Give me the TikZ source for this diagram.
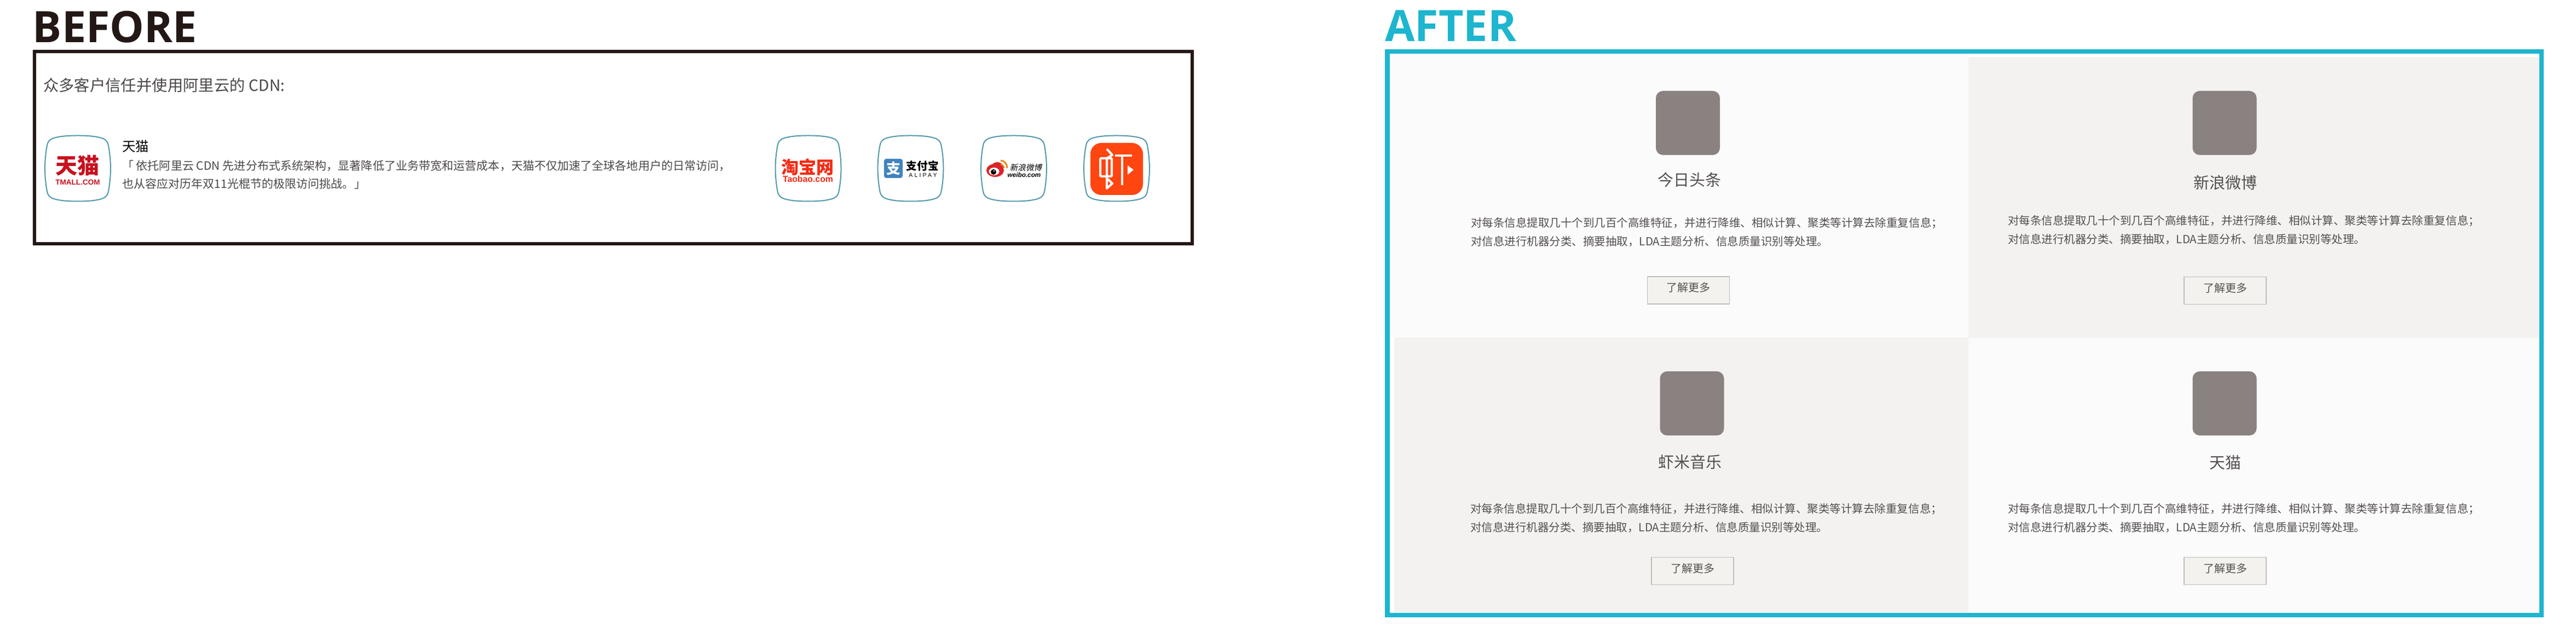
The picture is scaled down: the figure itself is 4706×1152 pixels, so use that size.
\documentclass[tikz,border=0pt]{standalone}
\usepackage{fontspec}
\setmainfont{Open Sans}
\newfontfamily\cjk{Noto Sans CJK SC}
\newfontfamily\headfont{Open Sans}
\newfontfamily\logosans{Liberation Sans}
\definecolor{inkblack}{HTML}{231815}
\definecolor{aftercyan}{HTML}{1EB5CF}
\definecolor{panellight}{HTML}{FBFBFB}
\definecolor{panelgrey}{HTML}{F3F2F0}
\definecolor{rimteal}{HTML}{4F98A8}
\definecolor{tilegrey}{HTML}{8A8280}
\definecolor{btnfill}{HTML}{F3F2EE}
\definecolor{btnrule}{HTML}{BDBCB8}
\definecolor{bodygrey}{HTML}{555050}
\definecolor{beforegrey}{HTML}{4C4848}
\definecolor{tmallred}{HTML}{C8101E}
\definecolor{taobaored}{HTML}{F42A12}
\definecolor{alipayblue}{HTML}{3F83BF}
\definecolor{weibored}{HTML}{D9252B}
\definecolor{weiboorange}{HTML}{E58A1F}
\definecolor{xiamiorange}{HTML}{FF4510}
\tikzset{
  txt/.style={inner sep=0pt,outer sep=0pt},
  heading/.style={txt,anchor=base west,font=\headfont\fontsize{22.5pt}{26pt}\selectfont\bfseries},
  cardtitle/.style={txt,text=bodygrey,font=\cjk\fontsize{8.25pt}{10pt}\selectfont},
  cardbody/.style={txt,anchor=north west,align=left,text=bodygrey,
    font=\cjk\fontsize{5.84pt}{9.7pt}\selectfont},
  morebtn/.style={txt,draw=btnrule,line width=.15mm,fill=btnfill,minimum width=15mm,minimum height=5mm},
  moretext/.style={txt,text=bodygrey,font=\cjk\fontsize{5.69pt}{7pt}\selectfont},
  greytile/.style={txt,fill=tilegrey,rounded corners=1.3mm,minimum width=11.7mm,minimum height=11.7mm},
  squircle/.pic={
    \draw[rimteal,line width=.2mm]
      (0,-60) .. controls (-20,-60) and (-35,-58.5) .. (-45,-55)
      .. controls (-52,-52.5) and (-55,-48) .. (-56,-42)
      .. controls (-58,-32) and (-60,-15) .. (-60,0)
      .. controls (-60,15) and (-58,32) .. (-56,42)
      .. controls (-55,48) and (-52,52.5) .. (-45,55)
      .. controls (-35,58.5) and (-20,60) .. (0,60)
      .. controls (20,60) and (35,58.5) .. (45,55)
      .. controls (52,52.5) and (55,48) .. (56,42)
      .. controls (58,32) and (60,15) .. (60,0)
      .. controls (60,-15) and (58,-32) .. (56,-42)
      .. controls (55,-48) and (52,-52.5) .. (45,-55)
      .. controls (35,-58.5) and (20,-60) .. (0,-60) -- cycle;
  }
}
\begin{document}
\begin{tikzpicture}[x=.1mm,y=-.1mm]
\useasboundingbox (0,0) rectangle (4706,1152);
% BEFORE
\node[heading,text=inkblack] (beforehead) at (60,78) {BEFORE};
\draw[inkblack,line width=.6mm] (63,94) rectangle (2178,445);
\node[txt,anchor=west,text=beforegrey,font=\cjk\fontsize{8.08pt}{10pt}\selectfont] (intro) at (79,156) {众多客户信任并使用阿里云的 CDN:};
\node[txt,anchor=west,text=black,font=\cjk\fontsize{6.97pt}{9pt}\selectfont] (tmname) at (223,267) {天猫};
\node[txt,anchor=west,align=left,text=beforegrey,font=\cjk\fontsize{6pt}{9.3pt}\selectfont] (tmdesc) at (223,319)
  {「 依托阿里云 CDN 先进分布式系统架构，显著降低了业务带宽和运营成本，天猫不仅加速了全球各地用户的日常访问，\\也从容应对历年双11光棍节的极限访问挑战。」};
% customer icons
\pic at (142,307.5) {squircle};
\pic at (1476.5,307.5) {squircle};
\pic at (1663.5,307.5) {squircle};
\pic at (1852,307.5) {squircle};
\pic at (2040,307.5) {squircle};
% Tmall logo
\node[txt,text=tmallred,font=\cjk\fontsize{11.4pt}{12pt}\selectfont\bfseries] (tmallcn) at (142,302) {天猫};
\node[txt,text=tmallred,font=\logosans\fontsize{3.85pt}{5pt}\selectfont\bfseries] (tmallen) at (142,333) {TMALL.COM};
% Taobao logo
\node[txt,text=taobaored,font=\cjk\fontsize{9.1pt}{10pt}\selectfont\bfseries] (taobaocn) at (1475,305) {淘宝网};
\node[txt,text=taobaored,font=\logosans\fontsize{4.5pt}{5pt}\selectfont\bfseries] (taobaoen) at (1476,327) {Taobao.com};
% Alipay logo
\node[txt,fill=alipayblue,rounded corners=.4mm,minimum width=3.4mm,minimum height=3.5mm,
  text=white,font=\cjk\fontsize{7.4pt}{8pt}\selectfont\bfseries] (alipaybox) at (1632,307.5) {支};
\node[txt,text=black,font=\cjk\fontsize{5.6pt}{6pt}\selectfont\bfseries] (alipaycn) at (1685.5,303) {支付宝};
\node[txt,text=black,font=\logosans\fontsize{3pt}{4pt}\selectfont\addfontfeature{LetterSpace=30}] (alipayen) at (1686,320) {ALIPAY};
% Weibo logo
\fill[weibored] (1818,311) ellipse [x radius=16,y radius=12];
\fill[weibored] (1822,305) ellipse [x radius=11,y radius=9];
\fill[white] (1816,313) ellipse [x radius=9.5,y radius=7];
\fill[black] (1815,314) circle [radius=5];
\fill[white] (1816,312) circle [radius=1.3];
\draw[weiboorange,line width=.3mm] (1828,293) .. controls (1835,293) and (1840,300) .. (1840,307);
\draw[weiboorange,line width=.25mm] (1828,300) .. controls (1831,300) and (1834,303) .. (1834,307);
\node[txt,text=black,font=\cjk\fontsize{4.15pt}{5pt}\selectfont\addfontfeature{FakeSlant=0.2}] (weibocn) at (1874,306) {新浪微博};
\node[txt,text=black,font=\logosans\fontsize{3.35pt}{4pt}\selectfont\bfseries\itshape] (weiboen) at (1871,319) {weibo.com};
% Xiami logo
\fill[xiamiorange,rounded corners=2mm] (1992,261) rectangle (2088,356);
\draw[white,line width=.4mm,rounded corners=.2mm] (2010,289) rectangle (2031,322);
\draw[white,line width=.4mm,line join=round] (2022,272) -- (2032,283) -- (2022,289) -- (2022,344) -- (2032,335) -- (2024,327);
\draw[white,line width=.45mm] (2037,284) -- (2068,284) (2050,284) -- (2050,338);
\fill[white] (2060,302) -- (2071,310) -- (2060,319) -- cycle;
% AFTER
\fill[panellight] (2539,98) rectangle (3596,616);
\fill[panelgrey] (3596,104) rectangle (4639,617);
\fill[panelgrey] (2547,616) rectangle (3596,1119);
\fill[panellight] (3596,617) rectangle (4639,1119);
\node[heading,text=aftercyan] (afterhead) at (2530,76) {AFTER};
\draw[aftercyan,line width=.85mm] (2534.5,94) rectangle (4643,1123);
\foreach \n/\rx/\ry/\ttl/\tx/\ty/\bx/\by/\btnx/\btny in {
  a/3083.5/224.5/今日头条/3086/328/2687/397/3084.5/530,
  b/4064/224.5/新浪微博/4065/333/3668/393/4065/530.5,
  c/3091/736.5/虾米音乐/3087/843/2686/919/3092/1042.5,
  d/4064/736.5/天猫/4065/844/3668/919/4065/1042.5}{
  \node[greytile] (tile\n) at (\rx,\ry) {};
  \node[cardtitle] (title\n) at (\tx,\ty) {\ttl};
  \node[cardbody] (body\n) at (\bx,\by)
    {对每条信息提取几十个到几百个高维特征，并进行降维、相似计算、聚类等计算去除重复信息；\\对信息进行机器分类、摘要抽取，LDA主题分析、信息质量识别等处理。};
  \node[morebtn] (btn\n) at (\btnx,\btny) {};
  \node[moretext] (more\n) at ([yshift=.5mm]btn\n.center) {了解更多};
}
\end{tikzpicture}
\end{document}
